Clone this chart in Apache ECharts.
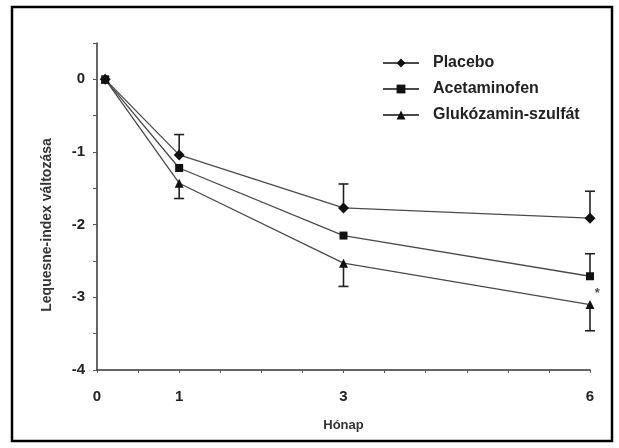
<!DOCTYPE html>
<html>
<head>
<meta charset="utf-8">
<script src="https://cdn.jsdelivr.net/npm/echarts@6/dist/echarts.min.js"></script>
<style>
html,body{margin:0;padding:0;background:#fff;}
#chart{width:619px;height:448px;}
</style>
</head>
<body>
<div id="chart"></div>
<script>
// hónap (the 0 point sits a bit right of the axis in the original)
let months = [0.1, 1, 3, 6];
let placebo = [0, -1.04, -1.77, -1.91];
let acetaminofen = [0, -1.22, -2.15, -2.71];
let glukozamin = [0, -1.43, -2.53, -3.10];
// drawn error bar lengths (placebo & acetaminofen up, glukózamin down)
let placeboErr = [0, 0.28, 0.33, 0.37];
let acetaminofenErr = [0, 0, 0, 0.31];
let glukozaminErr = [0, 0.21, 0.32, 0.36];
let xTickLabels = [0, 1, 3, 6];
let yTickLabels = [0, -1, -2, -3, -4];
let star = [6.09, -2.94];

let font = '"Liberation Sans", Arial, sans-serif';

function pairs(ys){
    return months.map((m,i)=>[m, ys[i]]);
}

function errData(ys, errs, dir){
    let out = [];
    for(let i=0;i<ys.length;i++){
        if(errs[i] > 0){
            out.push([months[i], ys[i], ys[i] + dir*errs[i]]);
        }
    }
    return out;
}

function errSeries(data){
    return {
        type:'custom',
        silent:true,
        z:1,
        data:data,
        renderItem:function(params, api){
            let p0 = api.coord([api.value(0), api.value(1)]);
            let p1 = api.coord([api.value(0), api.value(2)]);
            let style = {stroke:'#222', lineWidth:1.6};
            return {
                type:'group',
                children:[
                    {type:'line', shape:{x1:p0[0], y1:p0[1], x2:p1[0], y2:p1[1]}, style:style},
                    {type:'line', shape:{x1:p1[0]-5, y1:p1[1], x2:p1[0]+5, y2:p1[1]}, style:style}
                ]
            };
        }
    };
}

function lineSeries(name, ys, symbol, size){
    return {
        name:name,
        type:'line',
        data:pairs(ys),
        symbol:symbol,
        symbolSize:size,
        z:3,
        lineStyle:{color:'#4a4a4a', width:1.3},
        itemStyle:{color:'#111'}
    };
}

let chart = echarts.init(document.getElementById('chart'));
let option = {
    animation:false,
    backgroundColor:'#fff',
    grid:{
        left:97,
        top:43,
        right:29,
        bottom:78
    },
    legend:{
        orient:'vertical',
        left:382,
        top:55,
        padding:0,
        itemWidth:36,
        itemHeight:11,
        itemGap:10,
        data:['Placebo','Acetaminofen','Glukózamin-szulfát'],
        textStyle:{
            fontFamily:font,
            fontSize:16,
            fontWeight:'bold',
            color:'#222',
            padding:[0,0,0,9]
        }
    },
    xAxis:{
        type:'value',
        min:0,
        max:6,
        interval:0.5,
        name:'Hónap',
        nameLocation:'middle',
        nameGap:49,
        nameTextStyle:{fontFamily:font, fontSize:13, fontWeight:'bold', color:'#333'},
        splitLine:{show:false},
        axisLine:{onZero:false, lineStyle:{color:'#333', width:1.5}},
        axisTick:{length:3, lineStyle:{color:'#555', width:1}},
        axisLabel:{
            margin:19,
            fontFamily:font,
            fontSize:15,
            fontWeight:'bold',
            color:'#222',
            formatter:function(v){
                return xTickLabels.indexOf(v) >= 0 ? String(v) : '';
            }
        }
    },
    yAxis:{
        type:'value',
        min:-4,
        max:0.5,
        interval:0.5,
        splitLine:{show:false},
        axisLine:{show:true, onZero:false, lineStyle:{color:'#333', width:1.5}},
        axisTick:{show:true, length:4, lineStyle:{color:'#555', width:1}},
        axisLabel:{
            margin:12,
            fontFamily:font,
            fontSize:15,
            fontWeight:'bold',
            color:'#222',
            formatter:function(v){
                return yTickLabels.indexOf(v) >= 0 ? String(v) : '';
            }
        }
    },
    graphic:[
        // frame round the figure
        {
            type:'rect',
            shape:{x:12, y:7, width:600, height:434},
            style:{fill:'none', stroke:'#000', lineWidth:2.5},
            silent:true
        },
        // y axis title
        {
            type:'text',
            x:47,
            y:225,
            rotation:Math.PI/2,
            style:{
                text:'Lequesne-index változása',
                fontFamily:font,
                fontSize:14,
                fontWeight:'bold',
                fill:'#333',
                align:'center',
                verticalAlign:'middle'
            }
        }
    ],
    series:[
        errSeries(errData(placebo, placeboErr, 1)),
        errSeries(errData(acetaminofen, acetaminofenErr, 1)),
        errSeries(errData(glukozamin, glukozaminErr, -1)),
        lineSeries('Placebo', placebo, 'diamond', 11),
        lineSeries('Acetaminofen', acetaminofen, 'rect', 8),
        lineSeries('Glukózamin-szulfát', glukozamin, 'triangle', 9),
        {
            // significance mark next to the 6th month point (just past x max)
            type:'scatter',
            silent:true,
            clip:false,
            data:[star],
            symbol:'circle',
            symbolSize:1,
            itemStyle:{color:'transparent'},
            label:{
                show:true,
                position:'inside',
                formatter:'*',
                fontFamily:font,
                fontSize:13,
                fontWeight:'bold',
                color:'#222'
            }
        }
    ]
};
chart.setOption(option);
</script>
</body>
</html>
